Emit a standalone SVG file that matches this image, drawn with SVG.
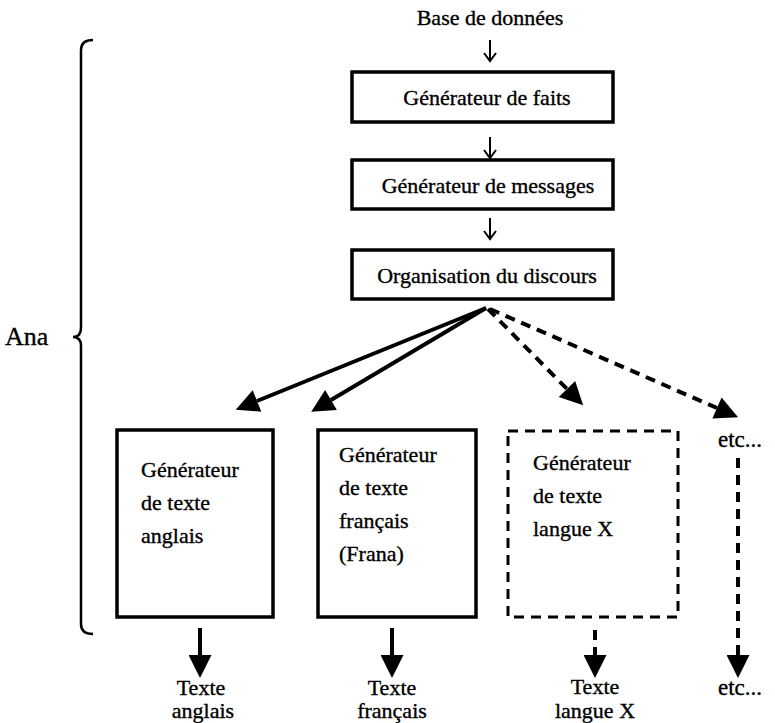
<svg xmlns="http://www.w3.org/2000/svg" width="775" height="723" viewBox="0 0 775 723">
<defs>
<style>
text{font-family:"Liberation Serif","Times New Roman",serif;fill:#000;stroke:#000;stroke-width:0.35}
.t{font-size:22px}
.b{font-size:23px}
.o{font-size:22px}
.box{fill:#fff;stroke:#000;stroke-width:3.5}
.dbox{fill:#fff;stroke:#000;stroke-width:3;stroke-dasharray:10 7}
.thin{fill:none;stroke:#000;stroke-width:2}
.fat{fill:none;stroke:#000;stroke-width:4}
.dash{fill:none;stroke:#000;stroke-width:4;stroke-dasharray:10 7}
</style>
<marker id="head" viewBox="0 0 10 10" refX="0" refY="5" markerWidth="26" markerHeight="23" markerUnits="userSpaceOnUse" orient="auto">
<path d="M0,0 L10,5 L0,10 z" fill="#000"/>
</marker>
</defs>
<rect width="775" height="723" fill="#fff"/>

<g id="db"><text class="t" x="490" y="25" text-anchor="middle">Base de données</text></g>

<g id="faits"><rect class="box" x="352" y="72" width="261" height="50"/>
<text class="t" x="487" y="105" text-anchor="middle">Générateur de faits</text></g>

<g id="messages"><rect class="box" x="352" y="160" width="261" height="49"/>
<text class="t" x="488" y="193" text-anchor="middle">Générateur de messages</text></g>

<g id="discours"><rect class="box" x="352" y="250" width="261" height="49"/>
<text class="t" x="487" y="283" text-anchor="middle">Organisation du discours</text></g>

<g id="ana"><text x="5" y="345" style="font-size:26px">Ana</text>
<path d="M93,40 Q81,40 81,50 L81,328 Q81,337 73,337 Q81,337 81,346 L81,624 Q81,634 93,634" fill="none" stroke="#000" stroke-width="2.5"/></g>

<g id="gen-anglais"><rect class="box" x="117" y="430" width="156" height="187"/>
<text class="t" x="141" y="477">Générateur</text>
<text class="t" x="141" y="510">de texte</text>
<text class="t" x="141" y="543">anglais</text></g>

<g id="gen-francais"><rect class="box" x="318" y="430" width="158" height="187"/>
<text class="t" x="339" y="462">Générateur</text>
<text class="t" x="339" y="495">de texte</text>
<text class="t" x="339" y="528">français</text>
<text class="t" x="339" y="561">(Frana)</text></g>

<g id="gen-x"><rect class="dbox" x="508" y="431" width="170" height="186"/>
<text class="t" x="533" y="470">Générateur</text>
<text class="t" x="533" y="503">de texte</text>
<text class="t" x="533" y="536">langue X</text></g>

<g id="etc-top"><text class="b" x="718" y="447">etc...</text></g>

<g id="out-anglais"><text class="o" x="201" y="695" text-anchor="middle">Texte</text>
<text class="o" x="203" y="718" text-anchor="middle">anglais</text></g>
<g id="out-francais"><text class="o" x="392" y="695" text-anchor="middle">Texte</text>
<text class="o" x="392" y="718" text-anchor="middle">français</text></g>
<g id="out-x"><text class="o" x="595" y="694" text-anchor="middle">Texte</text>
<text class="o" x="595" y="718" text-anchor="middle">langue X</text></g>
<g id="etc-bottom"><text class="b" x="718" y="695">etc...</text></g>

<g id="connectors">
<path class="thin" d="M490,40 V61 M484,53 L490,61 L496,53"/>
<path class="thin" d="M490,137 V158 M484,150 L490,158 L496,150"/>
<path class="thin" d="M490,218 V239 M484,231 L490,239 L496,231"/>
<path class="fat" d="M486,308 L257,401" marker-end="url(#head)"/>
<path class="fat" d="M486,308 L331,400" marker-end="url(#head)"/>
<path class="dash" d="M488,309 L567,389" marker-end="url(#head)"/>
<path class="dash" d="M490,309 L717,408" marker-end="url(#head)"/>
<path class="fat" d="M200,628 V655" marker-end="url(#head)"/>
<path class="fat" d="M392,628 V655" marker-end="url(#head)"/>
<path class="dash" d="M595,630 V655" marker-end="url(#head)"/>
<path class="dash" d="M738,458 V655" marker-end="url(#head)"/>
</g>
</svg>
